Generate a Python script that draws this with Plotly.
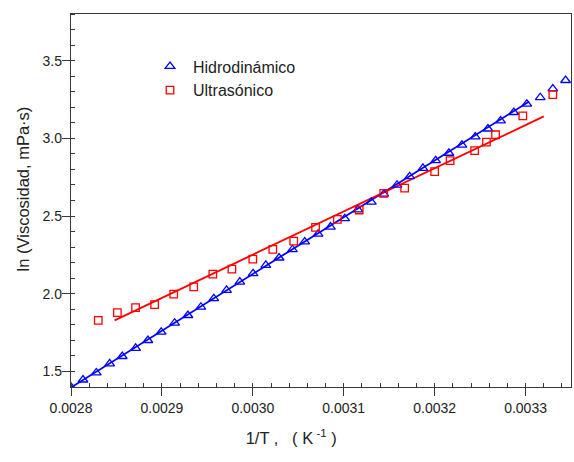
import plotly.graph_objects as go

# ---- data ----
hidro_x = [0.0028000, 0.0028132, 0.0028278, 0.0028425, 0.0028564, 0.0028711, 0.0028846,
           0.0028992, 0.0029140, 0.0029286, 0.0029429, 0.0029571, 0.0029711, 0.0029857,
           0.0030003, 0.0030143, 0.0030289, 0.0030436, 0.0030571, 0.0030718, 0.0030854,
           0.0031011, 0.0031157, 0.0031304, 0.0031440, 0.0031586, 0.0031725, 0.0031871,
           0.0032011, 0.0032157, 0.0032300, 0.0032447, 0.0032586, 0.0032725, 0.0032871,
           0.0033014, 0.0033162, 0.0033300, 0.0033440]
hidro_y = [1.400, 1.446, 1.492, 1.550, 1.597, 1.650, 1.700,
           1.754, 1.812, 1.861, 1.915, 1.969, 2.023, 2.076,
           2.130, 2.184, 2.231, 2.285, 2.334, 2.384, 2.430,
           2.484, 2.541, 2.590, 2.642, 2.700, 2.754, 2.808,
           2.857, 2.905, 2.957, 3.010, 3.061, 3.113, 3.167,
           3.221, 3.263, 3.319, 3.373]

ultra_x = [0.002830, 0.002851, 0.002871, 0.002892, 0.002913, 0.002935, 0.002956,
           0.002977, 0.003000, 0.003022, 0.003045, 0.003069, 0.003093, 0.003117,
           0.003144, 0.003167, 0.003200, 0.003217, 0.003244, 0.003257, 0.003267,
           0.003297, 0.003330]
ultra_y = [1.829, 1.879, 1.911, 1.930, 1.997, 2.044, 2.126,
           2.158, 2.223, 2.285, 2.339, 2.427, 2.479, 2.539,
           2.646, 2.679, 2.786, 2.857, 2.921, 2.975, 3.023,
           3.145, 3.281]

# linear fit lines (end points)
fit_hidro_x = [0.00280, 0.003304]
fit_hidro_y = [1.397, 3.237]
fit_ultra_x = [0.002848, 0.003320]
fit_ultra_y = [1.829, 3.141]

x_range = [0.0028, 0.00335]
y_range = [1.4, 3.8]

FONT = "Liberation Sans, Arial, sans-serif"
AX = "#3a3a3a"
TXT = "#222222"
NB = "\u00a0"
ZW = "\u200b"

fig = go.Figure()

fig.add_trace(go.Scatter(x=fit_hidro_x, y=fit_hidro_y, mode="lines",
                         line=dict(color="#0000FF", width=1.8), showlegend=False,
                         hoverinfo="skip"))
fig.add_trace(go.Scatter(x=fit_ultra_x, y=fit_ultra_y, mode="lines",
                         line=dict(color="#FF0000", width=1.8), showlegend=False,
                         hoverinfo="skip"))
fig.add_trace(go.Scatter(x=hidro_x, y=hidro_y, mode="markers", name="Hidrodinámico",
                         marker=dict(symbol="triangle-up-open", size=8.5, color="#0000FF",
                                     line=dict(width=1.3, color="#0000FF"))))
fig.add_trace(go.Scatter(x=ultra_x, y=ultra_y, mode="markers", name="Ultrasónico",
                         marker=dict(symbol="square-open", size=7.5, color="#FF0000",
                                     line=dict(width=1.3, color="#FF0000"))))

fig.update_layout(
    width=574, height=462,
    margin=dict(l=71, r=3, t=14, b=75),
    paper_bgcolor="white", plot_bgcolor="white",
    font=dict(family=FONT, color=TXT, size=14),
    showlegend=True,
    legend=dict(x=0.152, y=0.905, xanchor="left", yanchor="top",
                bgcolor="rgba(0,0,0,0)", font=dict(size=16, family=FONT, color=TXT),
                itemwidth=36, tracegroupgap=0),
    xaxis=dict(range=x_range, tick0=0.0028, dtick=0.0001, tickformat=".4f",
               showgrid=False, zeroline=False,
               showline=True, linecolor=AX, linewidth=1.4, mirror=True,
               ticks="outside", ticklen=8, tickwidth=1.4, tickcolor=AX,
               tickfont=dict(size=14, family=FONT, color=TXT),
               minor=dict(dtick=0.00002, ticks="inside", ticklen=4, tickwidth=1.1,
                          tickcolor=AX, showgrid=False),
               title=dict(text="1/T ," + NB * 3 + "( K<sup> -1</sup> )" + NB * 13 + ZW,
                          font=dict(size=16.5, family=FONT, color=TXT), standoff=17)),
    yaxis=dict(range=y_range, tick0=1.5, dtick=0.5, tickformat=".1f",
               showgrid=False, zeroline=False,
               showline=True, linecolor=AX, linewidth=1.4, mirror=True,
               ticks="outside", ticklen=8, tickwidth=1.4, tickcolor=AX,
               ticklabelstandoff=-3,
               tickfont=dict(size=14, family=FONT, color=TXT),
               minor=dict(dtick=0.1, ticks="inside", ticklen=4, tickwidth=1.1,
                          tickcolor=AX, showgrid=False),
               title=dict(text=ZW + NB * 5 + "ln (Viscosidad, mPa·s)",
                          font=dict(size=16.5, family=FONT, color=TXT), standoff=8)),
    # overlay axes that only draw the inner half of the major ticks (crossing ticks)
    xaxis2=dict(range=x_range, overlaying="x", anchor="y", side="bottom",
                tick0=0.0028, dtick=0.0001, showticklabels=False, showgrid=False,
                zeroline=False, showline=False, ticks="inside", ticklen=7,
                tickwidth=1.4, tickcolor=AX),
    yaxis2=dict(range=y_range, overlaying="y", anchor="x", side="left",
                tick0=1.5, dtick=0.5, showticklabels=False, showgrid=False,
                zeroline=False, showline=False, ticks="inside", ticklen=6,
                tickwidth=1.4, tickcolor=AX),
)

fig.write_html("out.html", config={"displayModeBar": False},
               post_script="document.body.style.margin='0px';")
